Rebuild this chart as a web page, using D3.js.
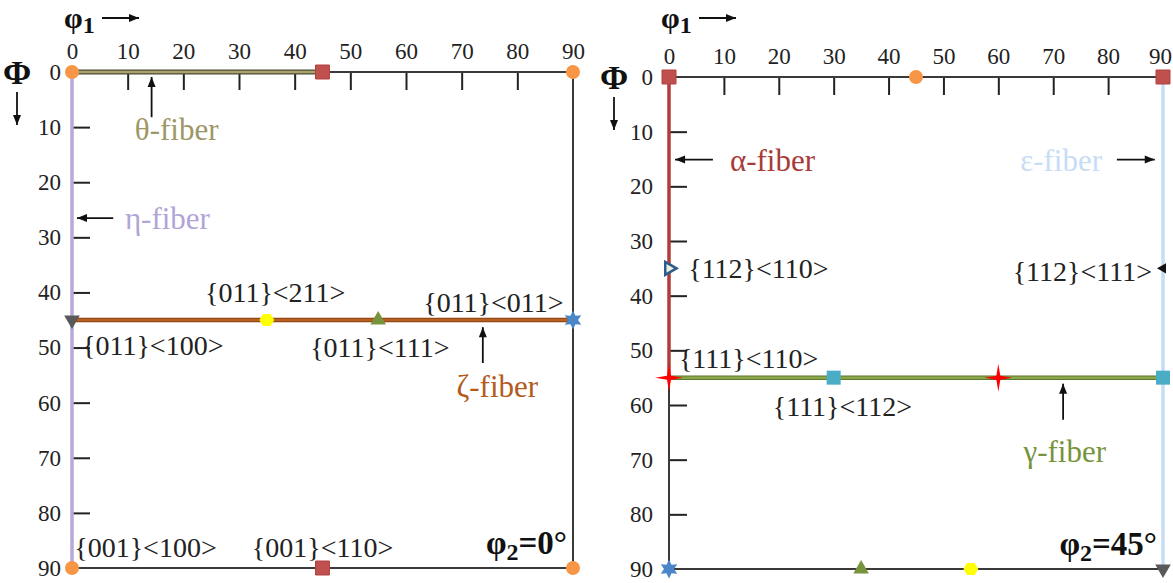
<!DOCTYPE html>
<html lang="en">
<head>
<meta charset="UTF-8">
<script src="https://d3js.org/d3.v7.min.js"></script>
<style>
  body { margin: 0; background: #fff; }
  svg text { font-family: "Liberation Serif", serif; }
  .tick text { font-size: 23px; fill: #222; }
  .lbl { font-size: 28px; fill: #222; }
  .fib { font-size: 31px; }
</style>
</head>
<body>
<svg id="viz" width="1173" height="583" font-family="Liberation Serif"></svg>
<script>
// Euler angle ticks (deg)
var ticks = [0, 10, 20, 30, 40, 50, 60, 70, 80, 90];

// ---- phi2 = 0 section ----
var fibers0 = [
  {kind: "axis",  from: [45, 0], to: [90, 0]},
  {kind: "axis",  from: [90, 0], to: [90, 90]},
  {kind: "axis",  from: [0, 90], to: [90, 90]},
  {kind: "theta", from: [0, 0],  to: [45, 0]},
  {kind: "eta",   from: [0, 0],  to: [0, 90]},
  {kind: "zeta",  from: [0, 45], to: [90, 45]}
];
var markers0 = [
  {phi1: 0,  Phi: 0,  shape: "circle"},
  {phi1: 45, Phi: 0,  shape: "square"},
  {phi1: 90, Phi: 0,  shape: "circle"},
  {phi1: 0,  Phi: 45, shape: "triDown"},
  {phi1: 35, Phi: 45, shape: "hex"},
  {phi1: 55, Phi: 45, shape: "triUp"},
  {phi1: 90, Phi: 45, shape: "star6"},
  {phi1: 0,  Phi: 90, shape: "circle"},
  {phi1: 45, Phi: 90, shape: "square"},
  {phi1: 90, Phi: 90, shape: "circle"}
];
var labels0 = [
  {text: "{011}<211>", phi1: 36.5, Phi: 40,   anchor: "middle", kind: "lbl"},
  {text: "{011}<011>", phi1: 75.7, Phi: 41.7, anchor: "middle", kind: "lbl"},
  {text: "{011}<100>", phi1: 1.8,  Phi: 49.5, anchor: "start",  kind: "lbl"},
  {text: "{011}<111>", phi1: 55.3, Phi: 50,   anchor: "middle", kind: "lbl"},
  {text: "{001}<100>", phi1: 0.4,  Phi: 86.2, anchor: "start",  kind: "lbl"},
  {text: "{001}<110>", phi1: 45,   Phi: 86.2, anchor: "middle", kind: "lbl"},
  {text: "θ-fiber",    phi1: 18.8, Phi: 10.3, anchor: "middle", kind: "theta"},
  {text: "η-fiber",    phi1: 9.5,  Phi: 26.6, anchor: "start",  kind: "eta"},
  {text: "ζ-fiber",    phi1: 76.4, Phi: 57,   anchor: "middle", kind: "zeta"}
];
var arrows0 = [
  {from: [14.3, 8.2],  to: [14.3, 0.9]},
  {from: [7.4, 26.5],  to: [0.9, 26.5]},
  {from: [73.8, 52.8], to: [73.8, 46.3]}
];

// ---- phi2 = 45 section ----
var fibers45 = [
  {kind: "axis",  from: [0, 0],  to: [90, 0]},
  {kind: "axis",  from: [0, 55], to: [0, 90]},
  {kind: "axis",  from: [0, 90], to: [90, 90]},
  {kind: "alpha", from: [0, 0],  to: [0, 55]},
  {kind: "eps",   from: [90, 0], to: [90, 90]},
  {kind: "gamma", from: [0, 55], to: [90, 55]}
];
var markers45 = [
  {phi1: 0,  Phi: 0,  shape: "square"},
  {phi1: 45, Phi: 0,  shape: "circle"},
  {phi1: 90, Phi: 0,  shape: "square"},
  {phi1: 0,  Phi: 35, shape: "triRightOpen"},
  {phi1: 90, Phi: 35, shape: "triLeftSmall"},
  {phi1: 0,  Phi: 55, shape: "star4"},
  {phi1: 30, Phi: 55, shape: "squareCyan"},
  {phi1: 60, Phi: 55, shape: "star4"},
  {phi1: 90, Phi: 55, shape: "squareCyan"},
  {phi1: 0,  Phi: 90, shape: "star6"},
  {phi1: 35, Phi: 90, shape: "triUp"},
  {phi1: 55, Phi: 90, shape: "hex"},
  {phi1: 90, Phi: 90, shape: "triDown"}
];
var labels45 = [
  {text: "α-fiber",    phi1: 11.1, Phi: 15.2, anchor: "start",  kind: "alpha"},
  {text: "ε-fiber",    phi1: 78.9, Phi: 15.2, anchor: "end",    kind: "eps"},
  {text: "{112}<110>", phi1: 3.5,  Phi: 35,   anchor: "start",  kind: "lbl"},
  {text: "{112}<111>", phi1: 88,   Phi: 35.6, anchor: "end",    kind: "lbl"},
  {text: "{111}<110>", phi1: 1.8,  Phi: 51.4, anchor: "start",  kind: "lbl"},
  {text: "{111}<112>", phi1: 18.9, Phi: 60.3, anchor: "start",  kind: "lbl"},
  {text: "γ-fiber",    phi1: 72.1, Phi: 68.5, anchor: "middle", kind: "gamma"}
];
var arrows45 = [
  {from: [8.0, 15.1],  to: [1.1, 15.1]},
  {from: [81.6, 15.1], to: [88.5, 15.1]},
  {from: [71.8, 62.7], to: [71.8, 56.1]}
];

// styles
var lineStyle = {
  axis:  [{c: "#3a3a3a", w: 2}],
  theta: [{c: "#4d4b33", w: 5}, {c: "#aaa46c", w: 2.5}],
  eta:   [{c: "#b6a8d8", w: 3.5}],
  zeta:  [{c: "#8a4216", w: 4.5}, {c: "#b8601f", w: 2.5}],
  alpha: [{c: "#b03d3a", w: 3.5}],
  eps:   [{c: "#c6dcf5", w: 3.5}],
  gamma: [{c: "#5f7532", w: 4.5}, {c: "#8aa848", w: 2.5}]
};
var textColor = {
  lbl: "#222", theta: "#9d9766", eta: "#b3a4d6", zeta: "#b25b1d",
  alpha: "#a83a38", eps: "#c7dcf5", gamma: "#77933c"
};

function poly(pts) { return "M" + pts.map(function(p) { return p.join(","); }).join("L") + "Z"; }
function tri(r, rot) {
  var pts = [];
  for (var i = 0; i < 3; i++) {
    var a = (rot + i * 120) * Math.PI / 180;
    pts.push([r * Math.sin(a), -r * Math.cos(a)]);
  }
  return poly(pts);
}
function star(n, ro, ri) {
  var pts = [];
  for (var i = 0; i < 2 * n; i++) {
    var a = i * Math.PI / n, r = i % 2 ? ri : ro;
    pts.push([r * Math.sin(a), -r * Math.cos(a)]);
  }
  return poly(pts);
}
function hex(r) {
  var pts = [];
  for (var i = 0; i < 6; i++) {
    var a = i * Math.PI / 3;
    pts.push([r * Math.cos(a), r * Math.sin(a) * 0.92]);
  }
  return poly(pts);
}
var shapes = {
  circle:       {d: d3.symbol(d3.symbolCircle, 154)(), fill: "#f79646"},
  square:       {d: "M-7,-7h14v14h-14Z", fill: "#c0504d", stroke: "#b04340"},
  squareCyan:   {d: "M-7,-7h14v14h-14Z", fill: "#4bacc6"},
  triDown:      {d: tri(9, 180), fill: "#595959"},
  triUp:        {d: tri(9, 0), fill: "#77933c"},
  hex:          {d: hex(7.5), fill: "#ffff00"},
  star6:        {d: star(6, 9.5, 5), fill: "#4a86c8"},
  star4:        {d: star(4, 14, 2.8), fill: "#ff0000"},
  triRightOpen: {d: tri(7.5, 90), fill: "#ebf1de", stroke: "#2e5c8a", sw: 2.5},
  triLeftSmall: {d: tri(6, 270), fill: "#111"}
};

var svg = d3.select("#viz");
svg.append("defs").append("marker")
  .attr("id", "head")
  .attr("markerUnits", "userSpaceOnUse")
  .attr("viewBox", "0 0 10 10")
  .attr("refX", 10).attr("refY", 5)
  .attr("markerWidth", 12).attr("markerHeight", 10)
  .attr("orient", "auto")
  .append("path").attr("d", "M0,1L10,5L0,9Z").attr("fill", "#111");

function drawPanel(x, y, fibers, markers, labels, arrows, phi2, yPad, lastDx) {
  var g = svg.append("g");

  // top axis: phi1
  var ax = g.append("g")
    .attr("transform", "translate(0," + y(0) + ")")
    .call(d3.axisTop(x).tickValues(ticks).tickSizeInner(-18).tickSizeOuter(0));
  ax.select(".domain").remove();
  ax.attr("font-family", "Liberation Serif");
  ax.selectAll(".tick text").attr("dy", "0").attr("y", -13)
    .attr("dx", function(d) { return d === 90 ? lastDx : 0; });
  // left axis: Phi
  var ay = g.append("g")
    .attr("transform", "translate(" + x(0) + ",0)")
    .call(d3.axisLeft(y).tickValues(ticks).tickSizeInner(-18).tickSizeOuter(0));
  ay.select(".domain").remove();
  ay.attr("font-family", "Liberation Serif");
  ay.selectAll(".tick text").attr("x", -yPad);
  g.selectAll(".tick line").attr("stroke", "#222").attr("stroke-width", 2)
    .filter(function(d) { return d === 0 || d === 90; }).remove();

  // fibers / section borders
  fibers.forEach(function(f) {
    lineStyle[f.kind].forEach(function(s) {
      g.append("line")
        .attr("x1", x(f.from[0])).attr("y1", y(f.from[1]))
        .attr("x2", x(f.to[0])).attr("y2", y(f.to[1]))
        .attr("stroke", s.c).attr("stroke-width", s.w);
    });
  });

  // arrows
  g.selectAll(".arr").data(arrows).enter().append("line")
    .attr("x1", function(d) { return x(d.from[0]); })
    .attr("y1", function(d) { return y(d.from[1]); })
    .attr("x2", function(d) { return x(d.to[0]); })
    .attr("y2", function(d) { return y(d.to[1]); })
    .attr("stroke", "#111").attr("stroke-width", 1.8)
    .attr("marker-end", "url(#head)");

  // orientation markers
  g.selectAll(".mk").data(markers).enter().append("path")
    .attr("transform", function(d) { return "translate(" + x(d.phi1) + "," + y(d.Phi) + ")"; })
    .attr("d", function(d) { return shapes[d.shape].d; })
    .attr("fill", function(d) { return shapes[d.shape].fill; })
    .attr("stroke", function(d) { return shapes[d.shape].stroke || "none"; })
    .attr("stroke-width", function(d) { return shapes[d.shape].sw || 1; });

  // labels
  g.selectAll(".lb").data(labels).enter().append("text")
    .attr("class", function(d) { return d.kind === "lbl" ? "lbl" : "fib"; })
    .attr("x", function(d) { return x(d.phi1); })
    .attr("y", function(d) { return y(d.Phi); })
    .attr("dy", "0.35em")
    .attr("text-anchor", function(d) { return d.anchor; })
    .attr("fill", function(d) { return textColor[d.kind]; })
    .text(function(d) { return d.text; });

  // axis names
  var t = g.append("text").attr("x", x(0) - 8).attr("y", 28)
    .attr("font-size", 30).attr("font-weight", "bold").attr("fill", "#111");
  t.append("tspan").text("φ");
  t.append("tspan").attr("dy", 5).attr("font-size", 24).text("1");
  g.append("line").attr("x1", x(0) + 30).attr("y1", 18).attr("x2", x(0) + 67).attr("y2", 18)
    .attr("stroke", "#111").attr("stroke-width", 1.8).attr("marker-end", "url(#head)");

  g.append("text").attr("x", x(0) - 55).attr("y", y(0) + 12)
    .attr("text-anchor", "middle").attr("font-size", 34).attr("font-weight", "bold")
    .attr("fill", "#111").text("Φ");
  g.append("line").attr("x1", x(0) - 55).attr("y1", y(0) + 20).attr("x2", x(0) - 55).attr("y2", y(0) + 53)
    .attr("stroke", "#111").attr("stroke-width", 1.8).attr("marker-end", "url(#head)");

  // section label
  var s = g.append("text").attr("x", x(90) - 6).attr("y", y(90) - 14)
    .attr("text-anchor", "end").attr("font-size", 33).attr("font-weight", "bold").attr("fill", "#111");
  s.append("tspan").text("φ");
  s.append("tspan").attr("dy", 6).attr("font-size", 24).text("2");
  s.append("tspan").attr("dy", -6).text("=" + phi2 + "°");
}

var xL = d3.scaleLinear().domain([0, 90]).range([72, 573]);
var yL = d3.scaleLinear().domain([0, 90]).range([72, 568]);
var xR = d3.scaleLinear().domain([0, 90]).range([669, 1163]);
var yR = d3.scaleLinear().domain([0, 90]).range([77, 569]);

drawPanel(xL, yL, fibers0, markers0, labels0, arrows0, 0, 11, 0);
drawPanel(xR, yR, fibers45, markers45, labels45, arrows45, 45, 16, -3);
</script>
</body>
</html>
